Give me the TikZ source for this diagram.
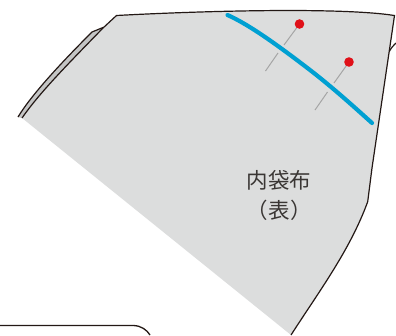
\documentclass[tikz,border=0pt]{standalone}
\usepackage{fontspec}
\newfontfamily\jpfont{Noto Sans CJK JP}
\definecolor{cloth}{HTML}{DCDDDD}
\definecolor{foldc}{HTML}{C4C5C5}
\definecolor{ink}{HTML}{231815}
\definecolor{seam}{HTML}{00A0D2}
\definecolor{pinhead}{HTML}{E01018}
\definecolor{needle}{HTML}{A5A5A5}
\definecolor{txt}{HTML}{3A3634}
\tikzset{
  outline/.style={draw=ink,line width=1.2pt},
  needleline/.style={draw=needle,line width=1pt},
  pinball/.style={fill=pinhead,draw=none},
  label/.style={text=txt,font=\jpfont\fontsize{21.5}{21.5}\selectfont,inner sep=0pt},
}
\begin{document}
\begin{tikzpicture}[x=1pt,y=-1pt]
\useasboundingbox (0,0) rectangle (396,335);
% folded edge behind
\path[fill=foldc] (18,117) .. controls (32,94) and (62,62) .. (92,32) -- (103,28) .. controls (70,62) and (40,92) .. (22,118) -- cycle;
\draw[outline] (18,117) .. controls (32,94) and (62,62) .. (92,32) -- (103,27.5);
% right flap
\draw[outline] (389,52) .. controls (391,48) and (393,46) .. (396,43);
% cloth
\path[fill=cloth] (22,118) .. controls (40,92) and (70,62) .. (103,28) -- (116.5,15.5)
  .. controls (200,11) and (340,7) .. (394.5,15.5)
  -- (372,168) -- (367.7,201.7) .. controls (350,250) and (320,290) .. (291,335) -- cycle;
% outlined edges
\draw[outline] (22,118) .. controls (40,92) and (70,62) .. (103,28) -- (116.5,15.5)
  .. controls (200,11) and (340,7) .. (394.5,15.5)
  -- (372,168) -- (367.7,201.7) .. controls (350,250) and (320,290) .. (291,335);
% pins
\draw[needleline] (299.5,24) -- (284,45);
\draw[needleline] (278,53) -- (265.5,71);
\draw[needleline] (349,62) -- (334,83);
\draw[needleline] (327.5,92) -- (315,110);
\fill[pinball] (299.5,24) circle (4.8);
\fill[pinball] (349,62) circle (4.8);
% seam
\draw[seam,line width=4.2pt,line cap=round] (227.5,15) .. controls (250,25) and (280,47) .. (310,70) .. controls (332,87) and (352,105) .. (372,123);
% labels
\node[label] (t1) at (279,180.5) {内袋布};
\node[label] (t2a) at (279,210.5) {表};
\node[label,anchor=east] (t2b) at (268,210.5) {（};
\node[label,anchor=west] (t2c) at (290,210.5) {）};
% box
\draw[ink,line width=1.3pt] (0,325.5) -- (133,325.5) .. controls (141,325.5) and (147,330) .. (150,335);
\end{tikzpicture}
\end{document}
